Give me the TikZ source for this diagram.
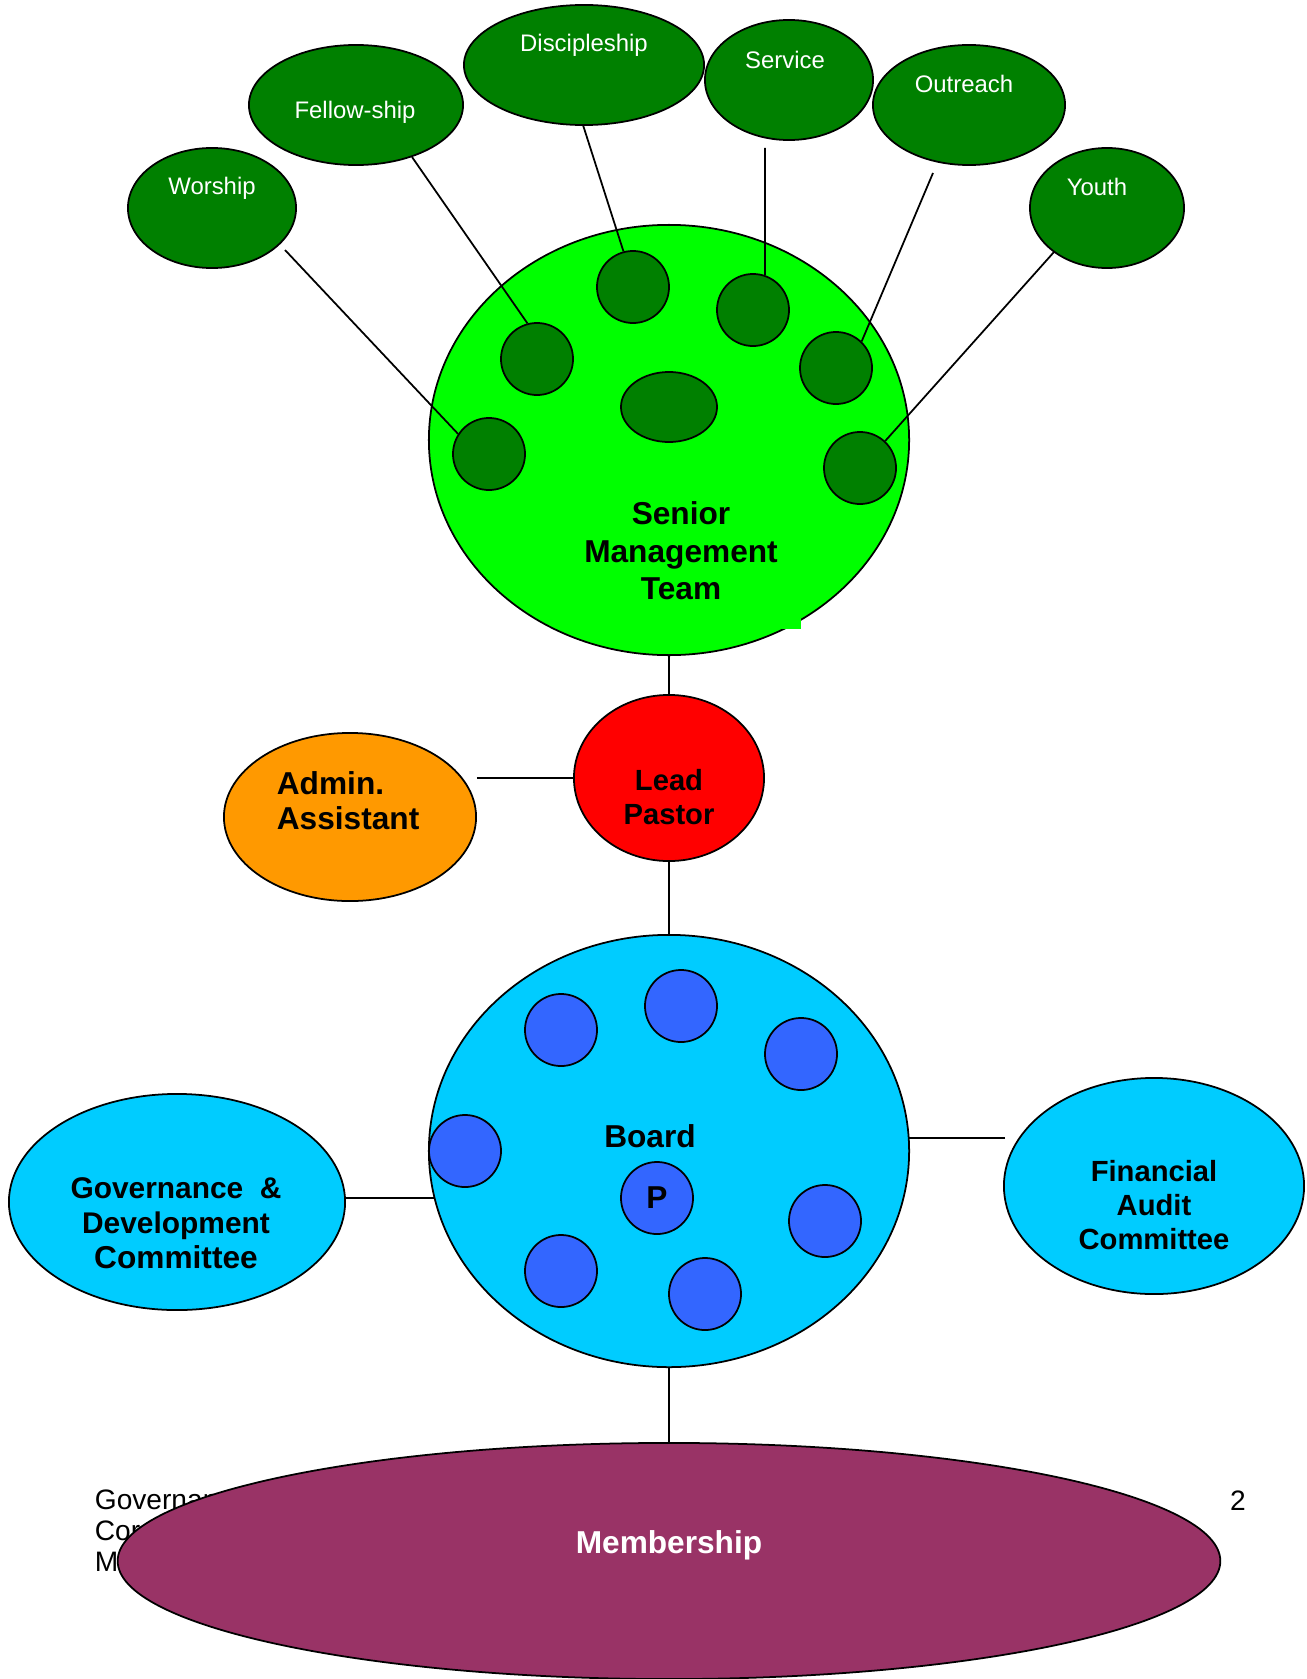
\documentclass[tikz,border=0pt]{standalone}
\usepackage{fontspec}
\setmainfont{Liberation Sans}
\usetikzlibrary{shapes.geometric,backgrounds}
\definecolor{ministrygreen}{HTML}{008000}
\definecolor{teamgreen}{HTML}{00FF00}
\definecolor{pastorred}{HTML}{FF0000}
\definecolor{adminorange}{HTML}{FF9900}
\definecolor{boardcyan}{HTML}{00CCFF}
\definecolor{trusteeblue}{HTML}{3366FF}
\definecolor{memberplum}{HTML}{993366}
\newcommand{\bigfont}{\bfseries\fontsize{9}{10.7}\selectfont}

\begin{document}
\begin{tikzpicture}[x=0.01cm,y=-0.01cm,line width=0.5pt]
    \tikzstyle{oval}=[ellipse,draw,inner sep=0pt]
    \tikzstyle{ministry}=[oval,fill=ministrygreen,minimum height=1.2cm]
    \tikzstyle{cell}=[circle,draw,fill=ministrygreen,inner sep=0pt,minimum size=0.72cm]
    \tikzstyle{trustee}=[cell,fill=trusteeblue]
    \tikzstyle{tag}=[text=white,inner sep=0pt,font=\fontsize{6.8}{8}\selectfont]
    \tikzstyle{title}=[align=center,inner sep=0pt,font=\bigfont]

    \useasboundingbox (0,0) rectangle (1307,1679);

    % Page footer, mostly hidden behind the membership oval
    \node[anchor=north west,align=left,inner sep=0pt,font=\fontsize{8}{8.8}\selectfont] (footer) at (94,1489) {Governan\\Cor\\M};
    \node[inner sep=0pt,font=\fontsize{8}{8.8}\selectfont] (page) at (1238,1501) {2};

    % Draw the ministry ovals
    \foreach \name/\cx/\cy/\w/\tx/\ty/\txt in {worship/212/208/1.68/212/188/Worship,
        fellowship/356/105/2.14/355/112/Fellow-ship, discipleship/584/65/2.40/584/45/Discipleship,
        service/789/80/1.68/785/60/Service, outreach/969/105/1.92/964/84/Outreach,
        youth/1107/208/1.54/1097/187/Youth}
    {
        \node[ministry,minimum width=\w cm] (\name) at (\cx,\cy) {};
        \node[tag] (\name-t) at (\tx,\ty) {\txt};
    }

    % Draw the senior management team
    \node[oval,fill=teamgreen,minimum width=4.8cm,minimum height=4.3cm] (smt) at (669,440) {};
    \foreach \name/\cx/\cy in {1/489/454,2/537/359,3/633/287,4/753/310,5/836/368,6/860/468}
        \node[cell] (sc-\name) at (\cx,\cy) {};
    \node[oval,fill=ministrygreen,minimum width=0.96cm,minimum height=0.70cm] (sc-0) at (669,407) {};
    \fill[teamgreen] (770,600) rectangle (801,629);
    \node[title] (smt-t) at (681,551) {Senior\\Management\\Team};

    % Connect every ministry with its team member
    \coordinate (worship-a) at (285,250);
    \coordinate (fellowship-a) at (412,157);
    \coordinate (discipleship-a) at (583,125);
    \coordinate (service-a) at (765,148);
    \coordinate (outreach-a) at (933,173);
    \coordinate (youth-a) at (1054,252);
    \foreach \source/\dest/\ang in {worship/1/147,fellowship/2/105,discipleship/3/105,
        service/4/71,outreach/5/46,youth/6/47}
        \draw (\source-a) -- (sc-\dest.\ang);

    % Lead pastor and admin
    \node[oval,fill=pastorred,minimum width=1.9cm,minimum height=1.66cm] (lead) at (669,778) {};
    \node[title,font=\bfseries\fontsize{8.3}{9.8}\selectfont] (lead-t) at (669,797) {Lead\\Pastor};
    \node[oval,fill=adminorange,minimum width=2.52cm,minimum height=1.68cm] (admin) at (350,817) {};
    \node[title,align=left,anchor=west,font=\bfseries\fontsize{9}{10}\selectfont] (admin-t) at (276,801) {Admin.\\Assistant};
    \draw (smt) -- (lead);
    \draw (admin.east |- lead) -- (lead);

    % Draw the board and its members
    \node[oval,fill=boardcyan,minimum width=4.8cm,minimum height=4.32cm] (board) at (669,1151) {};
    \foreach \name/\cx/\cy in {1/561/1030,2/681/1006,3/801/1054,4/465/1151,5/825/1221,6/561/1271,7/705/1294}
        \node[trustee] (t-\name) at (\cx,\cy) {};
    \node[title] (board-t) at (650,1136) {Board};
    \node[trustee,font=\bigfont] (chair) at (657,1198) {P};
    \draw (lead) -- (board);

    % Board committees
    \node[oval,fill=boardcyan,minimum width=3.36cm,minimum height=2.16cm] (gov) at (177,1202) {};
    \node[title,font=\bfseries\fontsize{8.5}{9.9}\selectfont] (gov-t) at (176,1223) {Governance\ \ \&\\Development\\{\fontsize{9}{9.9}\selectfont Committee}};
    \node[oval,fill=boardcyan,minimum width=3.0cm,minimum height=2.16cm] (audit) at (1154,1186) {};
    \node[title,font=\bfseries\fontsize{8.3}{9.6}\selectfont] (audit-t) at (1154,1205) {Financial\\Audit\\Committee};
    \coordinate (gov-a) at (345,1198);
    \coordinate (audit-a) at (1005,1138);
    \begin{scope}[on background layer]
        \draw (gov-a) -- (gov-a -| board.center);
        \draw (audit-a) -- (audit-a -| board.center);
    \end{scope}

    % Membership
    \node[oval,fill=memberplum,minimum width=11.02cm,minimum height=2.36cm] (members) at (669,1561) {};
    \node[title,text=white] (members-t) at (669,1545) {Membership};
    \draw (board) -- (members);
\end{tikzpicture}
\end{document}
